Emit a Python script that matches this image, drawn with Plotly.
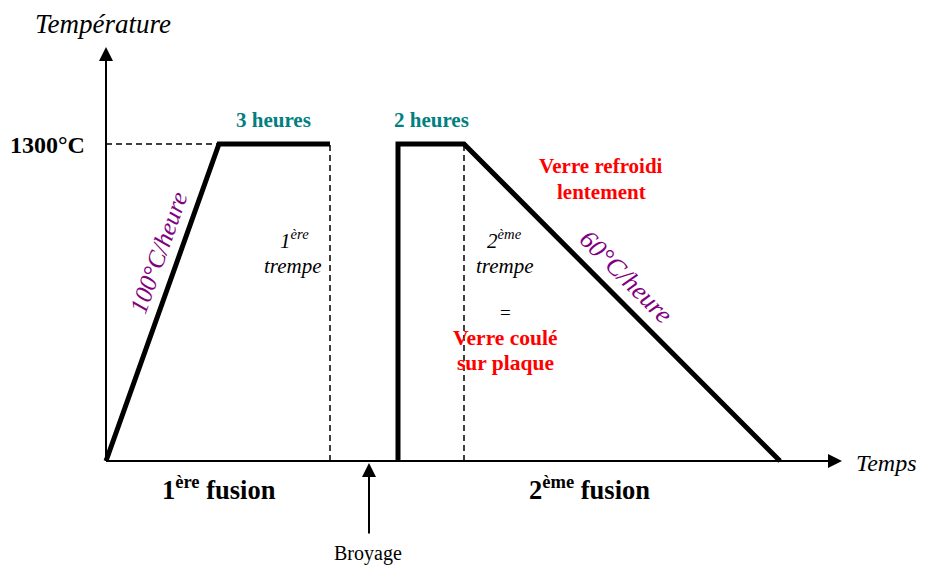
import plotly.graph_objects as go

# ---- data (schematic time units, temperature in °C) ----
fusion1_time = [0, 11.3, 22.4]
fusion1_temp = [0, 1300, 1300]
fusion2_time = [29.2, 29.2, 35.8, 67.4]
fusion2_temp = [0, 1300, 1300, 0]
palier_temp = 1300
trempe_times = [22.4, 35.8]
broyage_time = 26.3
axis_end_time = 73.6
axis_end_temp = 1698

# page body has an 8px margin: figure drawn at (8, 8) in the window
OFF = 8
W, H = 930 - OFF, 566 - OFF
X0_PX, Y0_PX = 106, 461          # origin in window pixels
PX_PER_T = 10.0
PX_PER_C = (461 - 144) / 1300.0
xr = [(OFF - X0_PX) / PX_PER_T, (930 - X0_PX) / PX_PER_T]
yr = [-(566 - Y0_PX) / PX_PER_C, (Y0_PX - OFF) / PX_PER_C]

SERIF = "Liberation Serif, Times New Roman, serif"

fig = go.Figure()

# dashed reference lines
fig.add_trace(go.Scatter(x=[0, fusion1_time[1]], y=[palier_temp, palier_temp], mode="lines",
                         line=dict(color="black", width=1.5, dash="6px,4px"), hoverinfo="skip"))
for t in trempe_times:
    fig.add_trace(go.Scatter(x=[t, t], y=[0, palier_temp], mode="lines",
                             line=dict(color="black", width=1.5, dash="6px,4px"), hoverinfo="skip"))

# axes lines
fig.add_trace(go.Scatter(x=[0, axis_end_time - 1.2], y=[0, 0], mode="lines",
                         line=dict(color="black", width=2), hoverinfo="skip"))
fig.add_trace(go.Scatter(x=[0, 0], y=[0, axis_end_temp - 50], mode="lines",
                         line=dict(color="black", width=2), hoverinfo="skip"))

# temperature profiles
fig.add_trace(go.Scatter(x=fusion1_time, y=fusion1_temp, mode="lines",
                         line=dict(color="black", width=5), hoverinfo="skip"))
fig.add_trace(go.Scatter(x=fusion2_time, y=fusion2_temp, mode="lines",
                         line=dict(color="black", width=5), hoverinfo="skip"))

ann = []
# arrow heads of axes
ann.append(dict(x=axis_end_time, y=0, ax=axis_end_time - 5, ay=0, xref="x", yref="y",
                axref="x", ayref="y", showarrow=True, arrowhead=2, arrowsize=1.4,
                arrowwidth=2, arrowcolor="black", text=""))
ann.append(dict(x=0, y=axis_end_temp, ax=0, ay=axis_end_temp - 200, xref="x", yref="y",
                axref="x", ayref="y", showarrow=True, arrowhead=2, arrowsize=1.4,
                arrowwidth=2, arrowcolor="black", text=""))
# Broyage arrow
ann.append(dict(x=broyage_time, y=-8, ax=broyage_time, ay=-303, xref="x", yref="y",
                axref="x", ayref="y", showarrow=True, arrowhead=2, arrowsize=1.4,
                arrowwidth=2, arrowcolor="black", text=""))


def txt(px, py, s, size, color="black", bold=False, italic=False, angle=0, xanchor="center"):
    if bold:
        s = "<b>" + s + "</b>"
    if italic:
        s = "<i>" + s + "</i>"
    ann.append(dict(x=(px - OFF) / W, y=1 - (py - OFF) / H, xref="paper", yref="paper", text=s,
                    showarrow=False, textangle=angle, xanchor=xanchor, yanchor="middle",
                    font=dict(family=SERIF, size=size, color=color)))


txt(103, 24, "Température", 27, italic=True)
txt(87, 145, "1300°C", 24, bold=True, xanchor="right")
txt(273, 120, "3 heures", 21, color="#008080", bold=True)
txt(431, 120, "2 heures", 21, color="#008080", bold=True)
txt(601, 166, "Verre refroidi", 21, color="#ff0000", bold=True)
txt(601, 192, "lentement", 21, color="#ff0000", bold=True)
txt(158, 253, "100°C/heure", 25, color="#800080", italic=True, angle=-70.4)
txt(626, 276, "60°C/heure", 26, color="#800080", italic=True, angle=45)
txt(294, 240, "1<sup>ère</sup>", 21, italic=True)
txt(293, 266, "trempe", 21, italic=True)
txt(504, 240, "2<sup>ème</sup>", 21, italic=True)
txt(505, 266, "trempe", 21, italic=True)
txt(505, 312, "=", 19)
txt(505, 338, "Verre coulé", 21.5, color="#ff0000", bold=True)
txt(505, 363, "sur plaque", 21.5, color="#ff0000", bold=True)
txt(219, 488, "1<sup>ère</sup> fusion", 26.5, bold=True)
txt(589, 488, "2<sup>ème</sup> fusion", 26.5, bold=True)
txt(886, 463, "Temps", 24, italic=True)
txt(368, 553, "Broyage", 20)

fig.update_layout(
    width=W, height=H, margin=dict(l=0, r=0, t=0, b=0),
    paper_bgcolor="white", plot_bgcolor="white", showlegend=False,
    xaxis=dict(range=xr, visible=False, fixedrange=True),
    yaxis=dict(range=yr, visible=False, fixedrange=True),
    annotations=ann,
)

fig.write_html("out.html")
